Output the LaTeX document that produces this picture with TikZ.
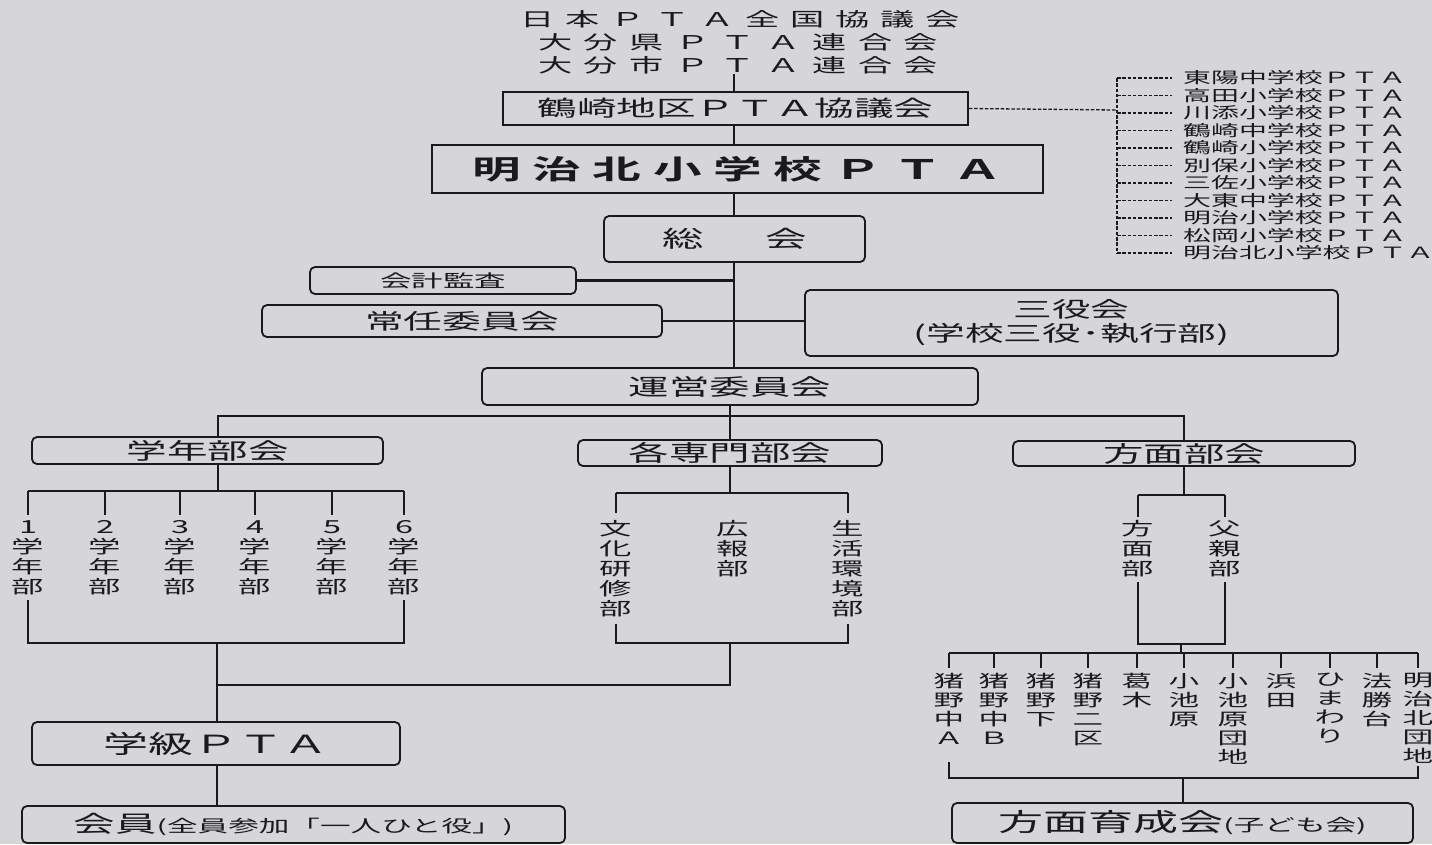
\documentclass[tikz,border=0pt]{standalone}
\usepackage{fontspec}
\setmainfont{Noto Sans CJK JP}[FakeStretch=1.8, BoldFont={* Bold}]
\usepackage{tikz}
\definecolor{paper}{RGB}{214,214,216}
\definecolor{inkline}{RGB}{26,26,28}
\newcommand{\jpsize}[2]{\fontsize{#1}{#2}\selectfont}
\tikzset{
  orgbox/.style={draw=inkline, line width=1.8pt, rounded corners=5pt, inner sep=0pt, text=inkline, font=\jpsize{22.5}{25}},
  flatbox/.style={draw=inkline, line width=1.8pt, inner sep=0pt, text=inkline},
  wire/.style={draw=inkline, line width=2.2pt},
  dotwire/.style={draw=inkline, line width=1.3pt, dash pattern=on 3.5pt off 1.8pt},
  vlabel/.style={align=center, inner sep=0pt, anchor=north, text=inkline, font=\jpsize{18}{20}},
  school/.style={anchor=west, inner sep=0pt, text=inkline, font=\jpsize{15.5}{17}},
  headline/.style={inner sep=0pt, text=inkline, font=\jpsize{19}{22}}
}

\begin{document}
\begin{tikzpicture}[x=1pt, y=-1pt]
\fill[paper] (0,0) rectangle (1432,844);
\useasboundingbox (0,0) rectangle (1432,844);
% federations above
\node[headline] (zenkoku) at (740,19) {\makebox[440pt][s]{日 本 Ｐ Ｔ Ａ 全 国 協 議 会}};
\node[headline] (ken) at (738,42) {\makebox[400pt][s]{大 分 県 Ｐ Ｔ Ａ 連 合 会}};
\node[headline] (shi) at (738,65) {\makebox[400pt][s]{大 分 市 Ｐ Ｔ Ａ 連 合 会}};
\node[flatbox, minimum width=465pt, minimum height=33pt, font=\jpsize{22}{24}] (tsurusaki) at (735.5,108.5) {鶴崎地区ＰＴＡ協議会};
\node[flatbox, minimum width=611pt, minimum height=48pt, font=\bfseries\jpsize{27}{30}] (meijikita) at (737.5,169) {\makebox[530pt][s]{明 治 北 小 学 校 Ｐ Ｔ Ａ}};
% main boxes
\node[orgbox, minimum width=261pt, minimum height=46pt, font=\jpsize{23}{26}] (sokai) at (734.5,239) {\makebox[145pt][s]{総 会}};
\node[orgbox, minimum width=266pt, minimum height=27pt, font=\jpsize{17.5}{20}] (kansa) at (443,280.5) {会計監査};
\node[orgbox, minimum width=400pt, minimum height=32pt, font=\jpsize{21.5}{24}] (jonin) at (462,321) {常任委員会};
\node[orgbox, minimum width=533pt, minimum height=66pt, align=center, font=\jpsize{21.5}{24}] (sanyaku) at (1071.5,323) {三役会\\(学校三役･執行部)};
\node[orgbox, minimum width=496pt, minimum height=37pt] (unei) at (730,386.5) {運営委員会};
\node[orgbox, minimum width=351pt, minimum height=27pt] (gakunen) at (207.5,450.5) {学年部会};
\node[orgbox, minimum width=304pt, minimum height=26pt] (senmon) at (730,453) {各専門部会};
\node[orgbox, minimum width=342pt, minimum height=25pt] (homen) at (1184,453.5) {方面部会};
\node[orgbox, minimum width=368pt, minimum height=43pt, font=\jpsize{25}{28}] (gakkyu) at (216,743.5) {学級ＰＴＡ};
\node[orgbox, minimum width=543pt, minimum height=37pt] (kaiin) at (293.5,824.5) {\jpsize{23}{26}会員\jpsize{17}{20}(全員参加「一人ひと役」)};
\node[orgbox, minimum width=461pt, minimum height=40pt] (ikusei) at (1182.5,823) {\jpsize{25}{28}方面育成会\jpsize{17}{20}(子ども会)};
% spine
\coordinate (spine) at (734,0);
\draw[wire] (shi.south -| spine) -- (tsurusaki.north -| spine);
\draw[wire] (tsurusaki.south -| spine) -- (meijikita.north -| spine);
\draw[wire] (meijikita.south -| spine) -- (sokai.north -| spine);
\draw[wire] (sokai.south -| spine) -- (unei.north -| spine);
\draw[wire] (kansa.east) -- (kansa.east -| spine);
\draw[wire] (jonin.east) -- (jonin.east -| sanyaku.west);
\coordinate (ubus) at (730,416);
\draw[wire] (unei.south) -- (ubus);
\coordinate (gspine) at (218,491);
\draw[wire] (gakunen.north -| gspine) |- (ubus) -| (homen.north);
\draw[wire] (ubus) -- (senmon.north);
% schools of the district
\foreach \sname [count=\i] in {東陽中学校,高田小学校,川添小学校,鶴崎中学校,鶴崎小学校,別保小学校,三佐小学校,大東中学校,明治小学校,松岡小学校,明治北小学校}
  \node[school] (sc\i) at (1183,60.5+17.5*\i) {\sname{}ＰＴＡ};
\coordinate (sbar) at (1117,110);
\draw[dotwire] (tsurusaki.east) -- (sbar);
\draw[dotwire] (sc1.west -| sbar) -- (sc11.west -| sbar);
\foreach \i in {1,...,11}
  \draw[dotwire] (sc\i.west -| sbar) -- ++(55,0);
% grade sections
\foreach \px [count=\i] in {28,105,180,255,332,404}
  \node[vlabel] (g\i) at (\px,520) {\i\\学\\年\\部};
\draw[wire] (gakunen.south -| gspine) -- (gspine);
\draw[wire] (g1.north |- gspine) -- (g6.north |- gspine);
\foreach \i in {1,...,6}
  \draw[wire] (g\i.north |- gspine) -- ++(0,24);
\coordinate (gfoot) at (217,643);
\draw[wire] ([yshift=-5pt]g1.south) |- (g6.south |- gfoot) -- ([yshift=-5pt]g6.south);
\draw[wire] (gfoot) -- (gakkyu.north -| gfoot);
\draw[wire] (gakkyu.south -| gfoot) -- (kaiin.north -| gfoot);
% special sections
\node[vlabel] (s1) at (616,520) {文\\化\\研\\修\\部};
\node[vlabel] (s2) at (733,520) {広\\報\\部};
\node[vlabel] (s3) at (848,520) {生\\活\\環\\境\\部};
\coordinate (sspine) at (730,493);
\draw[wire] (senmon.south) -- (sspine);
\draw[wire] (s1.north |- sspine) -- (s3.north |- sspine);
\draw[wire] (s1.north |- sspine) -- ++(0,20);
\draw[wire] (s3.north |- sspine) -- ++(0,20);
\coordinate (sfoot) at (730,643);
\coordinate (join) at (217,685);
\draw[wire] ([yshift=-7pt]s1.south) |- (s3.south |- sfoot) -- ([yshift=-7pt]s3.south);
\draw[wire] (sfoot) |- (join);
% area sections
\node[vlabel] (h1) at (1138,520) {方\\面\\部};
\node[vlabel] (h2) at (1225,520) {父\\親\\部};
\coordinate (hspine) at (1184,495);
\draw[wire] (homen.south) -- (hspine);
\draw[wire] (h1.north |- hspine) -- (h2.north |- hspine);
\draw[wire] (h1.north |- hspine) -- ++(0,22);
\draw[wire] (h2.north |- hspine) -- ++(0,22);
\coordinate (hfoot) at (1181,644);
\draw[wire] ([yshift=-5pt]h1.south) |- (h2.south |- hfoot) -- ([yshift=-5pt]h2.south);
\coordinate (dbus) at (1181,653);
\draw[wire] (hfoot) -- (dbus);
\foreach \px/\lab [count=\i] in {949/猪\\野\\中\\Ａ, 994/猪\\野\\中\\Ｂ, 1041/猪\\野\\下, 1088/猪\\野\\二\\区, 1137/葛\\木, 1184/小\\池\\原, 1233/小\\池\\原\\団\\地, 1281/浜\\田, 1330/ひ\\ま\\わ\\り, 1377/法\\勝\\台, 1418/明\\治\\北\\団\\地}
  \node[vlabel, font=\jpsize{17}{19}] (d\i) at (\px,673) {\lab};
\draw[wire] (d1.north |- dbus) -- (d11.north |- dbus);
\foreach \i in {1,...,11}
  \draw[wire] (d\i.north |- dbus) -- ++(0,15);
\coordinate (dfoot) at (1183,778);
\draw[wire] ([yshift=-17pt]d1.south) |- (d11.south |- dfoot) -- ([yshift=-2pt]d11.south);
\draw[wire] (dfoot) -- (ikusei.north -| dfoot);
\end{tikzpicture}
\end{document}
